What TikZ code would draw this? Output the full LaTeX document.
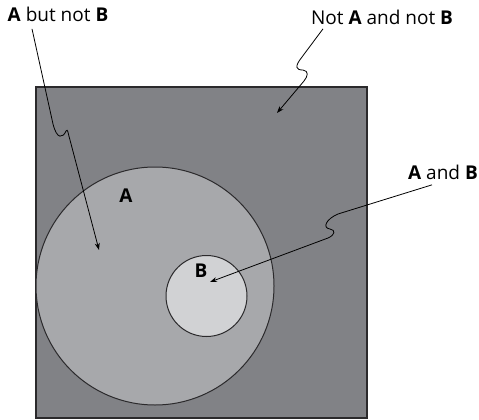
\documentclass[tikz,border=0pt]{standalone}
\usepackage{fontspec}
\setmainfont{Open Sans}
\usetikzlibrary{arrows.meta}
\definecolor{outergray}{HTML}{818286}
\definecolor{agray}{HTML}{A7A8AB}
\definecolor{bgray}{HTML}{D1D2D4}
\definecolor{edgegray}{HTML}{2B2A2C}
\begin{document}
\begin{tikzpicture}[x=1pt, y=-1pt, >={Stealth[length=7pt,width=5pt]}, font=\fontsize{19}{22}\selectfont]
  \useasboundingbox (0,0) rectangle (479,420);
  % universe and the two sets
  \draw[fill=outergray, draw=edgegray, line width=1.6pt] (36,87) rectangle (367,418);
  \draw[fill=agray, draw=edgegray, line width=1pt] (155,286) circle[radius=119pt];
  \draw[fill=bgray, draw=edgegray, line width=1pt] (206.5,296) circle[radius=40.5pt];
  % labels
  \node at (126,196) (la) {\textbf{A}};
  \node at (201,271) (lb) {\textbf{B}};
  \node at (58,14) (abutnotb) {\textbf{A} but not \textbf{B}};
  \node at (382,17) (notanotb) {Not \textbf{A} and not \textbf{B}};
  \node at (443,172) (aandb) {\textbf{A} and \textbf{B}};
  \coordinate (tipa) at (99,250);
  \coordinate (tipout) at (277,113);
  \coordinate (tipab) at (210,282);
  % pointers
  \draw[->, line width=0.8pt] ([xshift=-26pt,yshift=-4pt]abutnotb.south) -- (53,124)
    .. controls (57,140) and (63,138) .. (66,131)
    .. controls (68,128) and (68,134) .. (70,140) -- (tipa);
  \draw[->, line width=0.8pt] ([xshift=-59pt,yshift=-1pt]notanotb.south) -- (302,57)
    .. controls (294,67) and (296,70) .. (303,70)
    .. controls (309,71) and (308,76) .. (304,81) -- (tipout);
  \draw[->, line width=0.8pt] ([xshift=-11pt,yshift=-2pt]aandb.south) -- (338,214)
    .. controls (326,219) and (322,228) .. (330,229)
    .. controls (336,230) and (335,235) .. (328,238) -- (tipab);
\end{tikzpicture}
\end{document}
